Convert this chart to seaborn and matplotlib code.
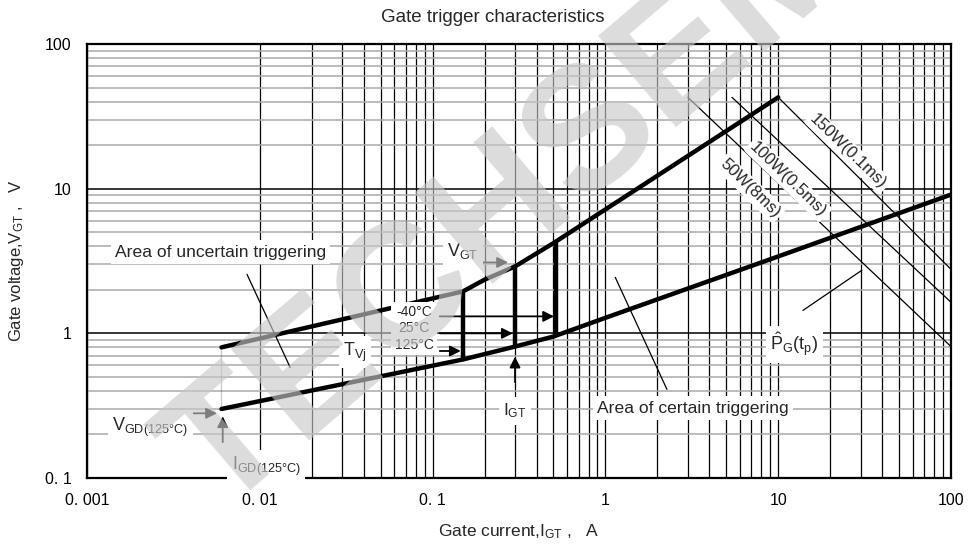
import matplotlib.pyplot as plt
import matplotlib.ticker as mticker
import pandas as pd
import seaborn as sns

# boundary curves of the trigger area (gate current A, gate voltage V)
upper_i = [0.006, 0.15, 0.2, 0.3, 0.5, 10]
upper_v = [0.8, 1.95, 2.35, 2.9, 4.2, 42.8]
lower_i = [0.006, 0.15, 0.3, 0.5, 1, 10, 100]
lower_v = [0.3, 0.66, 0.81, 0.95, 1.28, 3.4, 9.1]

# left edge (non-trigger current)
gd_i = [0.006, 0.006]
gd_v = [0.3, 0.8]

# I_GT / V_GT bars per junction temperature
temps = ["125°C", "25°C", "-40°C"]
bar_i = [0.15, 0.3, 0.52]
bar_v_low = [0.66, 0.81, 0.95]
bar_v_high = [1.95, 2.9, 4.2]
temp_arrow_v = [0.755, 1.0, 1.31]

# peak gate power lines
power_labels = ["50W(8ms)", "100W(0.5ms)", "150W(0.1ms)"]
power_i0 = [3.0, 5.4, 10]
power_v0 = [42.8, 42.8, 42.8]
power_i1 = [100, 100, 100]
power_v1 = [0.81, 1.64, 2.77]

x_ticks = [0.001, 0.01, 0.1, 1, 10, 100]
x_ticklabels = ["0. 001", "0. 01", "0. 1", "1", "10", "100"]
y_ticks = [0.1, 1, 10, 100]
y_ticklabels = ["0. 1", "1", "10", "100"]


def plot():
    sns.set_style("white")
    plt.rcParams["font.family"] = ["Liberation Sans", "DejaVu Sans"]
    plt.rcParams["mathtext.fontset"] = "custom"
    plt.rcParams["mathtext.rm"] = "Liberation Sans"
    plt.rcParams["mathtext.default"] = "regular"

    fig = plt.figure(figsize=(9.68, 5.44), dpi=100)
    ax = fig.add_axes([87 / 968, 1 - 478 / 544, 864 / 968, 434 / 544])
    ax.set_xscale("log")
    ax.set_yscale("log")
    ax.set_xlim(0.001, 100)
    ax.set_ylim(0.1, 100)

    # grid: black verticals, grey minor horizontals
    sub = mticker.LogLocator(base=10, subs=range(2, 10))
    ax.xaxis.set_minor_locator(sub)
    ax.yaxis.set_minor_locator(sub)
    ax.grid(True, which="both", axis="x", color="black", lw=0.9)
    ax.grid(True, which="major", axis="y", color="black", lw=1.1)
    ax.grid(True, which="minor", axis="y", color="#aaaaaa", lw=1.1)
    ax.set_axisbelow(True)
    for s in ax.spines.values():
        s.set_color("black")
        s.set_linewidth(1.6)

    ax.set_xticks(x_ticks, x_ticklabels)
    ax.set_yticks(y_ticks, y_ticklabels)
    ax.xaxis.set_minor_formatter(mticker.NullFormatter())
    ax.yaxis.set_minor_formatter(mticker.NullFormatter())
    ax.tick_params(which="both", length=0, labelsize=11.5, colors="black")
    ax.tick_params(axis="x", pad=11)
    ax.tick_params(axis="y", pad=11)

    df_up = pd.DataFrame({"I": upper_i, "V": upper_v})
    df_lo = pd.DataFrame({"I": lower_i, "V": lower_v})
    sns.lineplot(data=df_up, x="I", y="V", color="black", lw=3.2, sort=False, ax=ax)
    sns.lineplot(data=df_lo, x="I", y="V", color="black", lw=3.2, sort=False, ax=ax)
    sns.lineplot(x=gd_i, y=gd_v, color="black", lw=2, sort=False, ax=ax)
    ax.vlines(bar_i, bar_v_low, bar_v_high, color="black", lw=3.2)
    for i0, v0, i1, v1 in zip(power_i0, power_v0, power_i1, power_v1):
        sns.lineplot(x=[i0, i1], y=[v0, v1], color="black", lw=0.9, sort=False, ax=ax)

    box = dict(boxstyle="square,pad=0.25", fc="white", ec="none")
    arrow = dict(arrowstyle="-|>", color="black", lw=1.3, mutation_scale=16, shrinkA=0, shrinkB=0)
    thin = dict(arrowstyle="-", color="black", lw=0.9, shrinkA=0, shrinkB=0)

    # temperature arrows to the bars
    for t, bi, av in zip(temps, bar_i, temp_arrow_v):
        ax.annotate("", xy=(bi * 0.97, av), xytext=(0.11, av), arrowprops=arrow)
    ax.text(0.078, 1.08, "-40°C\n25°C\n125°C", fontsize=10, ha="center", va="center",
            linespacing=1.2, bbox=box, zorder=4)
    ax.text(0.0356, 0.74, "T$_{Vj}$", fontsize=13, ha="center", va="center", bbox=box, zorder=4)

    ax.text(0.15, 3.69, "V$_{GT}$", fontsize=13, ha="center", va="center", bbox=box, zorder=4)
    ax.annotate("", xy=(0.273, 3.09), xytext=(0.188, 3.09), arrowprops=arrow)

    ax.annotate("", xy=(0.3, 0.69), xytext=(0.3, 0.46), arrowprops=arrow)
    ax.text(0.3, 0.29, "I$_{GT}$", fontsize=12.5, ha="center", va="center", bbox=box, zorder=4)

    ax.annotate("", xy=(0.00565, 0.28), xytext=(0.00405, 0.28), arrowprops=arrow)
    ax.text(0.0014, 0.224, "V$_{GD(125°C)}$", fontsize=13, ha="left", va="center", bbox=box, zorder=4)
    ax.annotate("", xy=(0.0061, 0.267), xytext=(0.0061, 0.177), arrowprops=arrow)
    ax.text(0.0069, 0.12, "I$_{GD(125°C)}$", fontsize=13, ha="left", va="center", bbox=box, zorder=4)

    ax.text(0.00145, 3.63, "Area of uncertain triggering", fontsize=12.6, ha="left", va="center",
            bbox=box, zorder=4)
    ax.annotate("", xy=(0.015, 0.58), xytext=(0.00843, 2.56), arrowprops=thin)
    ax.text(0.893, 0.303, "Area of certain triggering", fontsize=12.6, ha="left", va="center",
            bbox=box, zorder=4)
    ax.annotate("", xy=(2.27, 0.41), xytext=(1.14, 2.44), arrowprops=thin)

    ax.text(8.97, 0.84, r"$\hat{P}_G(t_p)$", fontsize=13, ha="left", va="center", bbox=box, zorder=4)
    ax.annotate("", xy=(30.5, 2.73), xytext=(13.9, 1.44), arrowprops=thin)

    label_pos = [(6.87, 10.05), (11.4, 11.6), (25.4, 18.1)]
    for lab, (lx, ly) in zip(power_labels, label_pos):
        ax.text(lx, ly, lab, fontsize=12, rotation=-44, rotation_mode="anchor",
                ha="center", va="center", bbox=dict(boxstyle="round,pad=0.15", fc="white", ec="none"),
                zorder=4)

    ax.set_xlabel("Gate current,I$_{GT}$ ,   A", fontsize=12.5, labelpad=10)
    ax.set_ylabel("Gate voltage,V$_{GT}$ ,   V", fontsize=12, labelpad=14)
    fig.text(493 / 968, 1 - 17 / 544, "Gate trigger characteristics", ha="center", va="center",
             fontsize=13.5)

    # watermark
    fig.text(220 / 968, 1 - 515 / 544, "TECHSEM", rotation=40.5, rotation_mode="anchor",
             ha="left", va="baseline", fontsize=125, fontweight="bold", color="#c8c8c8",
             alpha=0.64, zorder=100)

    fig.savefig("out.png", dpi=100)


if __name__ == "__main__":
    plot()
